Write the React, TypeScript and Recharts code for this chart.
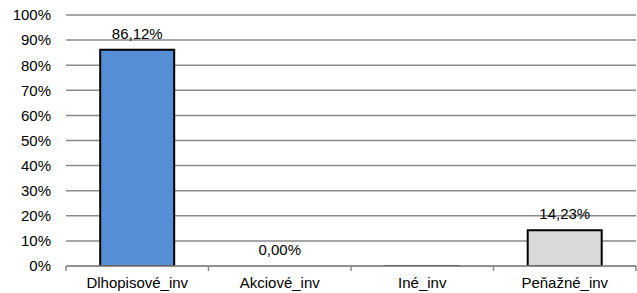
import { Bar, BarChart, CartesianGrid, Cell, LabelList, Line, XAxis, YAxis } from "recharts";

const categories = ["Dlhopisové_inv", "Akciové_inv", "Iné_inv", "Peňažné_inv"];
const shares = [0.8612, 0.0, -0.003, 0.1423];
const barColors = ["#558ed5", "#558ed5", "#d9d9d9", "#d9d9d9"];
const yTicks = [0, 0.1, 0.2, 0.3, 0.4, 0.5, 0.6, 0.7, 0.8, 0.9, 1];

const data = categories.map((name, i) => ({ name, v: shares[i] }));

const W = 637;
const H = 293;
const LEFT = 66;
const RIGHT = 1;
const BAND = (W - LEFT - RIGHT) / categories.length;
const FONT = 15;

const pct = (v: number) => `${(v * 100).toFixed(2).replace(".", ",")}%`;

function CatTick(props: any) {
  const { x, y, payload, index } = props;
  const half = BAND / 2;
  return (
    <g>
      <line x1={x - half} y1={y - 8} x2={x - half} y2={y - 3} stroke="#8a8a8a" strokeWidth={1.5} />
      {index === categories.length - 1 && (
        <line x1={x + half} y1={y - 8} x2={x + half} y2={y - 3} stroke="#8a8a8a" strokeWidth={1.5} />
      )}
      <text x={x} y={y + 14} textAnchor="middle" fontSize={FONT} fill="#000">
        {payload.value}
      </text>
    </g>
  );
}

function ValueLabel(props: any) {
  const { x, y, value } = props;
  if (value < 0) return null;
  return (
    <text x={x} y={y - 11} textAnchor="middle" fontSize={FONT} fill="#000">
      {pct(value)}
    </text>
  );
}

export default function App() {
  return (
    <div style={{ position: "absolute", left: 0, top: 0, fontFamily: "'Liberation Sans', Arial, sans-serif" }}>
      <BarChart width={W} height={H} data={data} margin={{ top: 15, right: RIGHT, left: 0, bottom: 0 }} barCategoryGap="24%">
        <CartesianGrid vertical={false} stroke="#8a8a8a" strokeWidth={1.5} />
        <XAxis
          dataKey="name"
          height={27}
          tickLine={false}
          axisLine={{ stroke: "#8a8a8a", strokeWidth: 1.5 }}
          tick={<CatTick />}
          interval={0}
        />
        <YAxis
          width={LEFT}
          domain={[0, 1]}
          ticks={yTicks}
          allowDataOverflow
          axisLine={false}
          tickLine={false}
          tickMargin={9}
          tick={{ fill: "#000", fontSize: FONT }}
          tickFormatter={(v) => `${Math.round(v * 100)}%`}
        />
        <Bar dataKey="v" stroke="#000" strokeWidth={2} isAnimationActive={false}>
          {data.map((d, i) => (
            <Cell key={d.name} fill={barColors[i]} />
          ))}
        </Bar>
        <Line dataKey="v" stroke="none" dot={false} activeDot={false} isAnimationActive={false}>
          <LabelList dataKey="v" content={<ValueLabel />} />
        </Line>
      </BarChart>
    </div>
  );
}
